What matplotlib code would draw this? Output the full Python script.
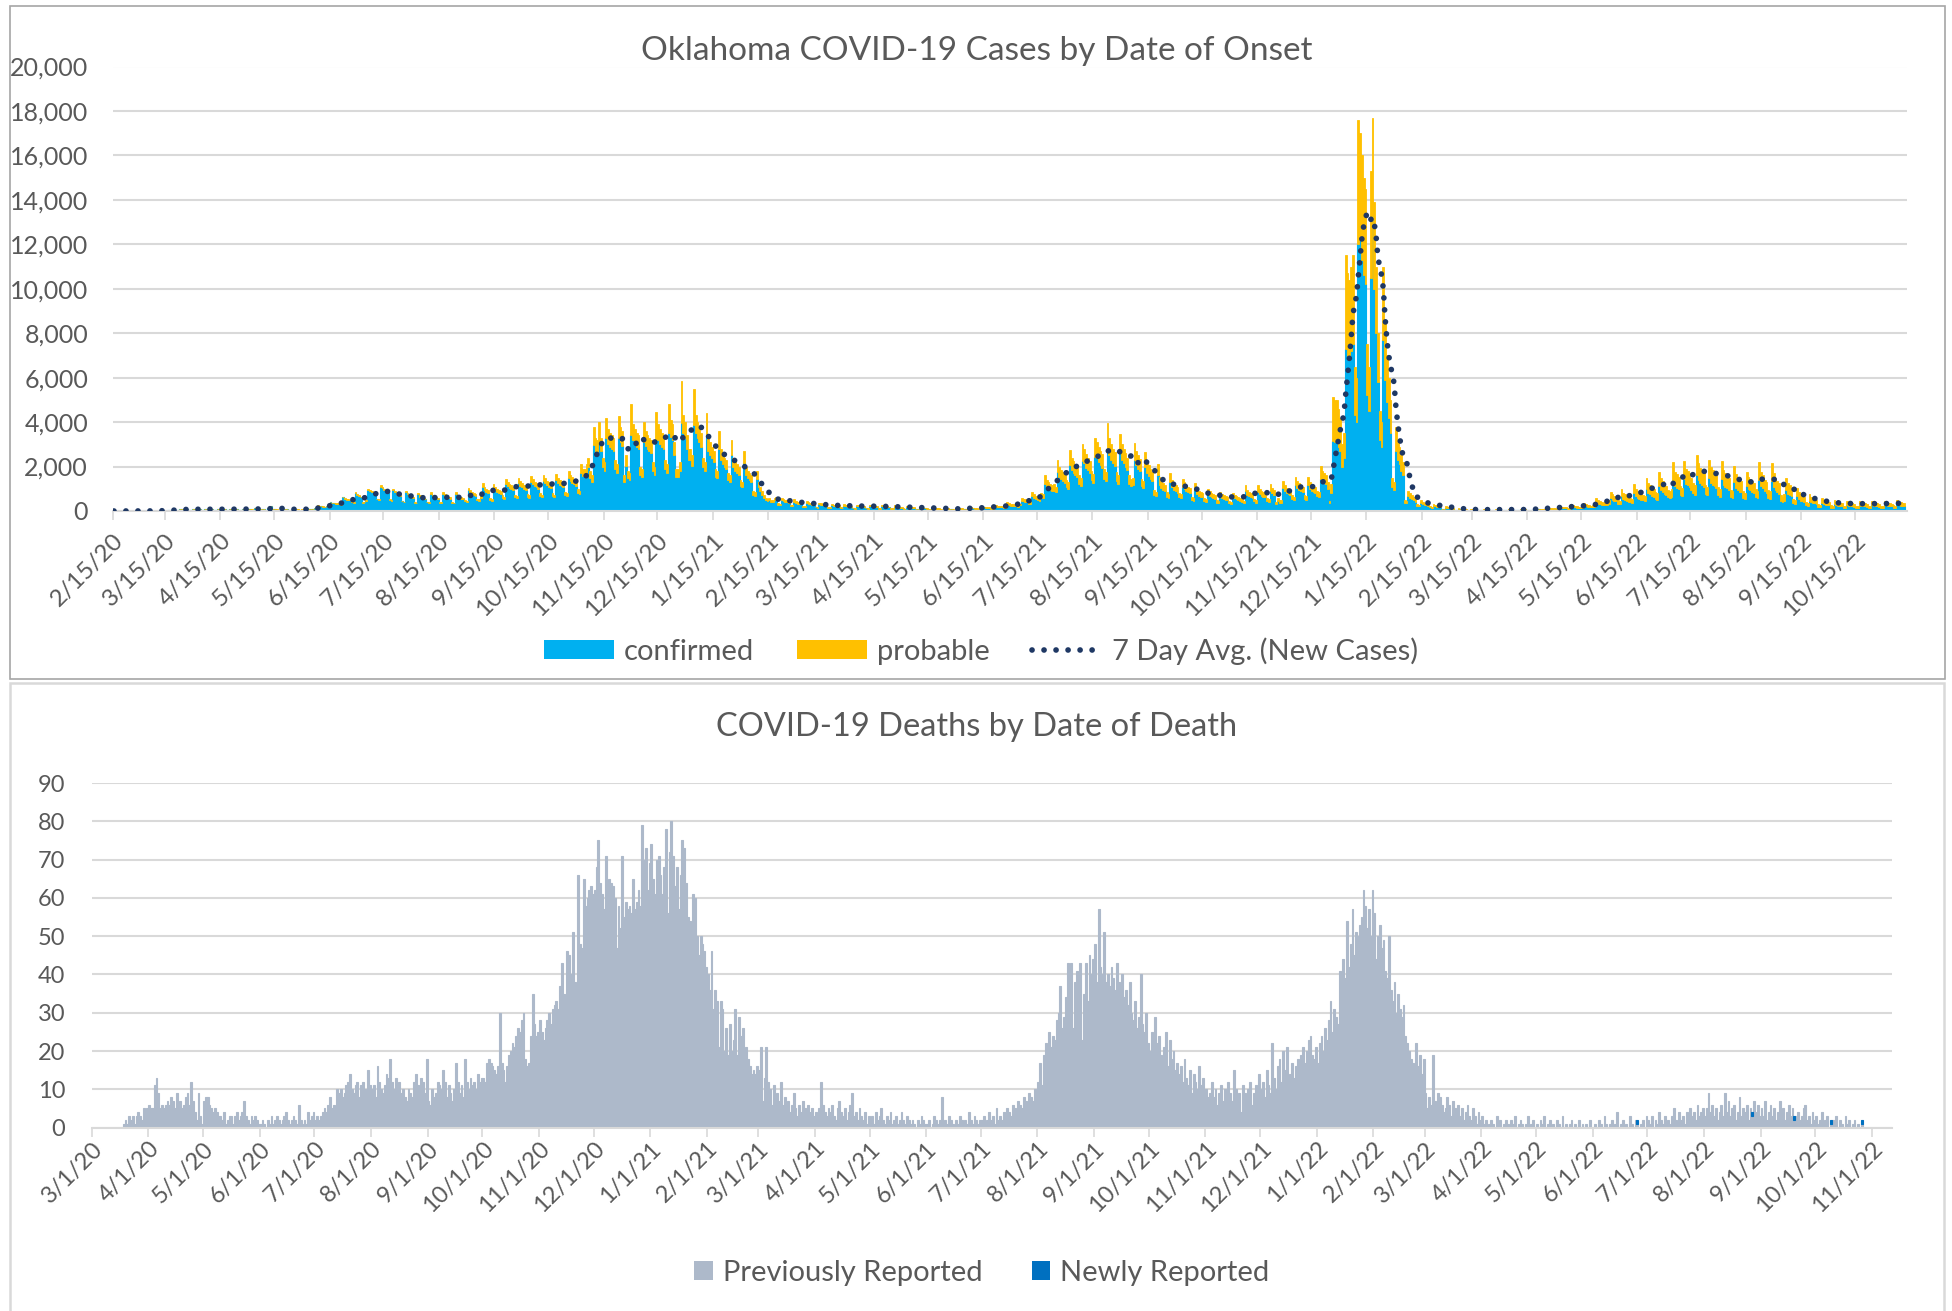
import numpy as np
import pandas as pd
import matplotlib
matplotlib.use("Agg")
import matplotlib.pyplot as plt
import matplotlib.dates as mdates
from matplotlib.patches import Rectangle, Patch
from matplotlib.lines import Line2D

plt.rcParams['font.family'] = ['Lato', 'DejaVu Sans']

# ---------------- DATA: cases by date of onset (daily, weeks start Saturday) ----------------
CASE_START = "2020-02-15"
TOTAL_WEEKS = [
 "0 0 0 0 0 0 0", "0 0 0 0 0 0 1", "0 1 2 2 3 4 6", "5 5 10 12 14 15 18",
 "20 22 45 50 55 55 60", "50 45 90 85 80 80 75", "60 55 95 90 88 85 80", "60 50 95 90 85 80 78",
 "60 50 100 95 90 85 80", "60 55 100 95 90 85 82", "65 55 110 100 95 90 85", "70 60 120 110 105 100 95",
 "75 65 130 120 240 105 100", "70 60 120 110 100 95 90", "50 45 60 80 75 70 65", "70 60 130 120 110 100 95",
 "130 120 260 230 220 210 200", "230 210 420 380 360 350 340", "330 300 640 580 540 520 500", "430 400 850 760 700 650 400",
 "420 480 1000 950 900 850 800", "560 520 1150 1100 1000 950 900", "520 480 1000 900 820 780 740", "460 420 900 800 720 680 640",
 "400 370 800 700 640 600 560", "420 390 840 740 670 630 600", "420 390 850 750 680 640 610", "410 380 840 740 670 630 600",
 "500 470 1050 940 860 800 760", "560 520 700 1250 1100 1000 950", "580 540 1200 1100 1000 960 920", "700 650 1450 1320 1220 1150 1100",
 "730 680 1480 1350 1250 1180 1120", "760 700 1560 1420 1320 1250 1180", "790 730 1620 1480 1370 1290 1220", "800 740 1650 1500 1400 1320 1250",
 "870 800 1800 1630 1520 1430 1350", "1000 900 2100 1900 1900 2100 2400", "1800 1600 3775 3300 3200 4000 3300", "2400 2200 4200 3700 3500 3400 3300",
 "2300 2100 4290 3800 3600 1600 2500", "1800 1700 4800 3900 3700 3500 3400", "2000 1900 4000 3600 3400 3300 3200", "2200 2000 4440 3900 3700 3500 3400",
 "2300 2100 4830 4100 3900 3100 1900", "1900 2200 5840 4300 4000 3400 2800", "2800 2500 5470 4300 4000 3800 3500", "2400 2200 4400 3300 3100 2900 2700",
 "1900 1800 3600 2800 2600 2400 2300", "1700 1600 3200 2400 2200 2100 2000", "1400 1300 2700 2000 1800 1700 1600", "900 850 1800 1300 1100 900 700",
 "600 550 590 500 500 600 650", "350 320 600 560 500 480 450", "280 260 520 460 420 400 380", "240 220 450 400 370 350 330",
 "200 180 380 340 310 290 280", "180 160 320 290 270 260 250", "165 150 300 270 250 240 230", "150 140 290 260 240 225 215",
 "150 140 290 260 240 225 215", "140 130 270 240 225 210 200", "125 115 250 220 200 190 180", "115 105 220 195 180 170 160",
 "100 90 195 170 155 145 140", "85 75 165 145 135 125 120", "75 65 145 125 115 110 105", "70 65 90 140 125 115 110",
 "90 80 180 160 145 135 130", "110 100 230 200 185 175 165", "140 130 290 250 230 220 210", "190 170 390 340 310 300 290",
 "270 250 330 600 560 540 520", "430 390 870 750 690 630 600", "800 750 1600 1400 1300 1200 1150", "1200 1100 2300 2000 1850 1750 1650",
 "1400 1300 2730 2400 2250 2100 2000", "1600 1480 3000 2800 2550 2400 2250", "1800 1650 3270 3100 2900 2700 2550", "1900 1750 3945 3300 3000 2800 2650",
 "1750 1600 3480 3000 2800 2600 2400", "1600 1450 1500 3075 2700 2500 2350", "1450 1330 2655 2250 2050 1900 1750", "950 870 2100 1550 1350 1250 1150",
 "850 780 1725 1400 1250 1150 1080", "820 760 1450 1300 1180 1100 1030", "650 600 1250 1000 900 850 800", "580 530 975 880 800 760 700",
 "480 440 860 760 700 660 620", "440 400 820 740 680 640 600", "520 470 1170 950 860 800 750", "560 500 1150 980 900 850 800",
 "580 520 1200 1050 950 420 600", "500 480 1350 1150 1050 1000 950", "700 650 1550 1350 1250 1150 1100", "720 660 1530 1320 1200 1150 1100",
 "900 850 2040 1800 1700 1600 1300", "470 1200 5120 5000 5000 4600 4200", "3000 3500 11500 10700 10400 11000 11500", "6500 6000 17600 17000 16000 15000 14500",
 "7500 6500 15300 17700 13900 11000 8000", "4500 4000 11000 8500 7000 6000 5000", "1500 1300 3800 3200 2900 2500 2200", "500 450 900 800 700 650 550",
 "300 280 480 420 380 350 320", "220 200 300 280 260 240 220", "110 100 220 190 170 160 150", "65 60 130 110 100 90 80",
 "42 40 90 72 66 60 55", "42 40 88 72 65 60 55", "42 40 88 72 65 60 55", "42 40 88 72 65 60 55",
 "45 42 95 78 72 65 60", "60 55 150 120 110 100 95", "95 90 200 170 155 140 130", "120 110 255 210 195 175 165",
 "150 140 310 260 240 215 200", "180 165 370 310 280 255 240", "260 240 580 480 440 420 380", "400 370 500 850 750 680 640",
 "480 440 1000 820 750 680 610", "590 550 1200 1000 920 840 770", "730 680 1500 1270 1150 1050 970", "860 800 1750 1480 1350 1230 1140",
 "950 880 1000 2190 1750 1650 1550", "1130 1050 2265 1900 1800 1700 1500", "1250 1150 2505 2150 1950 1800 1700", "1180 1100 2295 2000 1850 1750 1650",
 "1100 1000 2235 1850 1700 1600 1500", "960 880 2040 1650 1500 1350 1350", "900 830 1755 1550 1450 1350 1265", "1000 920 2190 1750 1600 1390 1300",
 "950 880 2175 1700 1500 1350 1250", "700 640 750 1500 1250 1150 1050", "560 500 1050 850 750 700 650", "400 360 750 640 580 540 500",
 "300 270 580 500 450 420 400", "250 230 480 420 380 360 340", "230 210 440 390 360 340 320", "230 210 450 390 360 340 320",
 "230 210 440 390 360 340 320", "240 220 460 400 370 350 330", "250 230 480 420 390 360 340",
]
PROBABLE_WEEKS = [
 "0 0 0 0 0 0 0", "0 0 0 0 0 0 0", "0 0 0 0 0 0 0", "0 0 1 1 1 1 1",
 "1 1 2 3 3 3 3", "3 2 5 4 4 4 4", "3 3 5 5 4 4 4", "3 3 5 5 4 4 4",
 "3 3 5 5 5 4 4", "3 3 5 5 5 4 4", "3 3 6 5 5 5 4", "4 3 6 6 5 5 5",
 "4 3 7 6 12 5 5", "4 3 6 6 5 5 5", "3 2 3 4 4 4 3", "4 3 7 6 6 5 5",
 "7 6 13 12 11 11 10", "12 11 21 19 18 18 17", "17 15 32 29 27 26 25", "22 20 43 38 35 33 20",
 "30 34 70 66 63 60 56", "40 36 80 77 70 66 63", "36 34 70 63 57 55 52", "32 30 63 56 50 48 45",
 "28 26 56 49 45 42 39", "30 27 59 52 47 44 42", "40 37 80 70 64 60 57", "45 42 92 81 74 69 66",
 "60 56 126 113 103 96 91", "75 70 95 170 150 135 130", "85 80 180 165 150 145 140", "105 100 220 200 185 175 165",
 "110 100 225 205 190 180 170", "115 105 240 215 200 190 180", "120 110 250 225 210 195 185", "125 115 260 230 215 200 190",
 "140 130 300 265 245 230 220", "170 150 380 330 330 370 420", "320 280 800 600 580 900 600", "430 400 900 680 640 620 600",
 "420 380 1000 700 660 300 460", "330 310 1400 720 680 640 620", "370 350 900 660 620 600 590", "400 370 1200 720 680 640 620",
 "420 380 1300 750 720 570 350", "350 400 1860 790 730 620 510", "510 460 1600 790 730 700 640", "440 400 1000 600 570 530 500",
 "350 330 800 510 480 440 420", "310 290 700 440 400 380 370", "260 240 560 370 330 310 290", "165 155 380 240 200 165 130",
 "110 100 110 90 90 110 120", "65 60 120 105 95 90 85", "55 50 105 90 85 80 75", "48 44 90 80 74 70 66",
 "40 36 76 68 62 58 56", "36 32 64 58 54 52 50", "33 30 60 54 50 48 46", "30 28 58 52 48 45 43",
 "30 28 58 52 48 45 43", "28 26 54 48 45 42 40", "25 23 50 44 40 38 36", "23 21 44 39 36 34 32",
 "20 18 39 34 31 29 28", "17 15 33 29 27 25 24", "15 13 29 25 23 22 21", "14 13 18 28 25 23 22",
 "18 16 36 32 29 27 26", "22 20 46 40 37 35 33", "30 28 62 54 50 47 45", "42 38 88 76 70 67 65",
 "62 58 76 140 130 125 120", "100 90 200 175 160 145 140", "185 170 370 320 300 275 265", "280 255 550 470 430 405 380",
 "330 305 680 565 525 490 470", "375 345 750 660 600 560 530", "420 390 820 730 680 635 600", "450 410 1245 780 700 660 620",
 "415 375 880 700 655 610 560", "380 340 350 775 640 590 550", "340 315 655 535 485 450 410", "225 205 500 365 320 295 270",
 "200 185 425 330 295 270 255", "190 180 350 300 280 260 240", "155 140 290 235 210 200 190", "135 125 225 205 185 180 165",
 "110 100 200 175 165 155 145", "100 95 190 175 160 150 140", "120 110 290 220 200 190 175", "130 120 280 230 210 200 190",
 "140 120 290 250 220 100 140", "120 110 320 270 250 240 230", "170 160 370 320 300 270 260", "180 160 380 320 290 280 270",
 "220 210 590 450 420 400 320", "120 400 1950 1900 1900 1700 1500", "1000 1100 4200 3800 3600 3800 4000", "2200 2000 5600 4800 4700 4400 4300",
 "2300 2000 4800 4400 3900 3000 2200", "1300 1100 3300 2600 2100 1800 1500", "400 350 1100 900 800 700 600", "120 110 220 200 170 160 130",
 "70 65 120 100 90 85 75", "50 45 70 65 60 55 50", "33 30 66 57 51 48 45", "20 18 39 33 30 27 24",
 "13 12 27 22 20 18 17", "13 12 26 22 20 18 17", "13 12 26 22 20 18 17", "13 12 26 22 20 18 17",
 "14 13 29 23 22 20 18", "18 17 45 36 33 30 29", "29 27 60 51 47 42 39", "36 33 77 63 59 53 50",
 "45 42 93 78 72 65 60", "54 50 111 93 84 77 72", "86 79 191 158 145 139 125", "132 122 165 280 248 224 211",
 "158 145 330 271 248 224 201", "200 187 408 340 313 286 262", "255 238 525 445 403 368 340", "310 288 630 533 486 443 410",
 "342 317 360 788 630 594 558", "407 378 815 684 648 612 540", "450 414 902 774 702 648 612", "425 396 826 720 666 630 594",
 "396 360 805 666 612 576 540", "346 317 734 594 540 486 486", "324 299 632 558 522 486 455", "360 331 788 630 576 500 468",
 "350 325 805 630 555 500 463", "260 237 278 555 463 425 389", "207 185 389 315 278 259 240", "148 133 278 237 215 200 185",
 "111 100 215 185 167 155 148", "93 85 178 155 141 133 126", "85 78 163 144 133 126 118", "85 78 167 144 133 126 118",
 "85 78 163 144 133 126 118", "89 81 170 148 137 130 122", "93 85 178 155 144 133 126",
]

# ---------------- DATA: deaths by date of death (daily, one string per month) ----------------
DEATH_START = "2020-03-01"
DEATHS_MONTHS = [
 "0 0 0 0 0 0 0 0 0 0 0 0 0 0 0 0 0 1 2 1 3 2 3 1 3 4 3 2 5 4 5",
 "6 5 5 11 13 9 5 6 5 6 7 6 8 7 5 9 6 7 5 6 8 9 6 12 7 4 2 9 3 1",
 "7 8 8 6 5 4 5 4 3 3 2 4 1 2 3 3 1 3 4 2 3 4 7 3 2 1 3 2 3 2 1",
 "1 2 1 0 2 1 3 1 2 3 2 1 2 3 4 2 1 2 3 2 1 6 2 1 2 1 4 2 3 4",
 "2 3 2 3 4 5 4 6 8 5 6 4 10 9 10 8 9 11 12 14 10 9 11 12 8 11 12 10 7 15 11",
 "10 11 8 16 12 10 9 11 14 13 18 12 10 13 11 12 9 10 8 7 10 9 8 12 14 11 7 13 12 9 18",
 "7 6 10 8 9 12 11 10 15 12 8 11 9 7 10 17 12 9 11 8 18 12 10 13 11 12 10 14 12 13",
 "13 12 17 18 17 16 15 14 16 30 17 15 12 16 19 20 22 21 24 26 25 28 30 18 16 17 24 35 27 24 25",
 "28 25 23 26 28 30 27 31 32 33 31 37 43 35 27 46 45 40 51 38 32 66 48 47 65 58 60 62 63 61",
 "62 68 75 64 61 57 71 63 65 64 63 60 47 58 52 71 55 59 57 58 56 65 57 59 62 58 79 70 73 62 69",
 "74 65 61 70 71 66 61 68 78 56 72 80 71 63 68 57 66 75 73 64 55 54 49 61 60 50 45 50 48 46 42",
 "40 36 46 31 36 33 21 33 31 20 26 19 27 20 23 31 19 29 24 26 19 21 18 16 14 15 14 16",
 "15 21 7 13 21 12 10 6 11 5 9 7 12 6 8 5 7 4 6 9 5 3 6 4 7 5 3 6 4 5 3",
 "4 3 5 12 6 4 3 5 4 6 3 2 5 7 4 3 5 2 4 6 9 3 4 2 5 3 2 4 1 3",
 "2 3 1 4 2 3 5 2 1 3 2 4 1 2 3 1 2 4 2 1 3 2 1 2 1 0 2 1 3 2 1",
 "1 2 0 1 3 2 1 2 8 1 2 1 3 2 1 0 2 1 3 2 1 2 1 4 2 1 3 2 1 2",
 "2 3 1 2 4 2 3 1 5 2 3 2 4 3 5 4 3 6 5 4 7 6 5 8 7 6 9 8 7 10 9",
 "12 17 11 19 22 18 25 21 24 23 28 30 37 26 29 34 43 36 43 26 38 41 31 43 23 35 43 33 45 40 44",
 "48 38 57 42 40 51 38 40 37 42 39 36 43 38 35 40 34 36 32 38 30 28 33 26 29 40 27 25 30 22",
 "20 25 18 29 22 24 19 17 21 25 16 23 18 20 15 17 14 16 12 18 13 11 15 9 14 12 10 16 11 13 9",
 "10 8 9 12 8 10 6 9 11 7 10 8 12 9 7 15 10 8 9 4 11 9 7 10 12 6 9 11 8 14",
 "10 12 8 15 11 9 22 13 10 16 18 12 20 15 21 11 14 17 13 16 18 15 19 21 17 20 23 24 19 18 21",
 "17 22 24 20 26 23 28 33 25 31 29 27 41 36 44 39 54 42 48 57 45 51 50 53 55 62 58 52 57 50 62",
 "56 44 50 53 47 49 41 39 50 36 33 38 30 35 31 29 32 24 22 20 18 17 15 22 16 19 14 18",
 "9 5 8 6 19 7 5 9 8 6 4 5 8 6 3 7 5 4 6 3 5 2 4 6 3 2 5 3 1 4 2",
 "3 1 2 0 1 2 1 0 3 1 2 0 1 2 1 0 2 1 3 0 1 2 1 0 1 3 0 1 2 0",
 "1 0 2 1 3 0 1 2 0 1 0 2 1 0 3 0 1 0 1 2 0 1 0 2 0 1 0 1 0 2 0",
 "0 1 0 2 1 0 3 1 0 1 2 0 1 4 0 1 2 0 1 0 3 1 0 2 1 0 1 2 0 3",
 "2 1 3 0 2 1 4 2 1 3 0 2 1 3 5 2 1 4 2 3 1 4 2 5 3 4 2 6 3 4 5",
 "3 5 9 4 6 3 5 2 4 6 3 9 4 7 3 5 6 2 4 8 3 5 4 6 2 5 3 7 4 6 3",
 "5 3 7 2 4 6 3 5 2 4 7 3 5 2 4 6 3 5 2 3 4 2 3 5 6 2 3 1 4 2",
 "3 1 2 4 1 2 3 0 1 2 1 3 0 2 1 0 3 1 2 0 1 2 0 1 0 1 0 0 0 0 0",
]
NEWLY_DATES = ["2022-06-25", "2022-08-27", "2022-09-19", "2022-10-09", "2022-10-26"]
NEWLY_VALUES = [1, 1, 1, 1, 1]

CASE_TITLE = "Oklahoma COVID-19 Cases by Date of Onset"
DEATH_TITLE = "COVID-19 Deaths by Date of Death"
CASE_LEGEND = ["confirmed", "probable", "7 Day Avg. (New Cases)"]
DEATH_LEGEND = ["Previously Reported", "Newly Reported"]

# ---------------- build series ----------------
total = np.array([float(v) for w in TOTAL_WEEKS for v in w.split()])
probable = np.array([float(v) for w in PROBABLE_WEEKS for v in w.split()])
confirmed = total - probable
case_dates = pd.date_range(CASE_START, periods=len(total), freq="D")
avg7 = pd.Series(total).rolling(7, min_periods=1).mean().values

deaths = np.array([float(v) for m in DEATHS_MONTHS for v in m.split()])
death_dates = pd.date_range(DEATH_START, periods=len(deaths), freq="D")
newly_dates = pd.to_datetime(NEWLY_DATES)
death_lookup = dict(zip(death_dates, deaths))
newly_bottom = [death_lookup.get(d, 0.0) for d in newly_dates]

# ---------------- styling ----------------
W, H = 1952, 1311
TXT = "#595959"
GRID = "#D9D9D9"
C_CONF = "#00B0F0"
C_PROB = "#FFC000"
C_AVG = "#1F3864"
C_PREV = "#ADB9CA"
C_NEW = "#0070C0"

fig = plt.figure(figsize=(W / 100, H / 100), dpi=100)
fig.patch.set_facecolor("white")

# panel borders
fig.add_artist(Rectangle((10 / W, 1 - 679 / H), 1935 / W, 673 / H, transform=fig.transFigure,
                         fill=False, edgecolor="#A6A6A6", lw=1.2))
fig.add_artist(Rectangle((10 / W, -0.02), 1934 / W, 1 - 683 / H + 0.02, transform=fig.transFigure,
                         fill=False, edgecolor=GRID, lw=1.8))


def style_axis(ax):
    for s in ["top", "right", "left"]:
        ax.spines[s].set_visible(False)
    ax.spines["bottom"].set_color(GRID)
    ax.spines["bottom"].set_linewidth(1.5)
    ax.yaxis.grid(True, color=GRID, lw=1.5)
    ax.set_axisbelow(True)
    ax.tick_params(axis="y", length=0, colors=TXT)
    ax.tick_params(axis="x", length=6.5, width=1.2, color=GRID, colors=TXT, direction="out")
    for t in ax.get_xticklabels() + ax.get_yticklabels():
        t.set_color(TXT)


def date_label(d):
    return f"{d.month}/{d.day}/{d.year % 100}"


# ---------------- top chart ----------------
ax1 = fig.add_axes([113 / W, 1 - 511 / H, (1907 - 113) / W, (511 - 66.5) / H])
x0 = mdates.date2num(case_dates[0])
ax1.bar(case_dates, confirmed, width=1.0, align="edge", color=C_CONF, edgecolor=C_CONF, lw=0.8, zorder=2)
ax1.bar(case_dates, probable, bottom=confirmed, width=1.0, align="edge", color=C_PROB, edgecolor=C_PROB, lw=0.6, zorder=2)
ax1.plot(case_dates + pd.Timedelta(hours=12), avg7, color=C_AVG, lw=4.1,
         linestyle=(0, (0.01, 2.1)), dash_capstyle="round", zorder=3)
ax1.set_xlim(x0, x0 + 1002)
ax1.set_ylim(0, 20000)
ax1.set_yticks(np.arange(0, 20001, 2000))
ax1.set_yticklabels([f"{v:,}" for v in range(0, 20001, 2000)], fontsize=18)
cticks = pd.date_range(CASE_START, "2022-10-15", freq=pd.DateOffset(months=1))
ax1.set_xticks(mdates.date2num(cticks))
ax1.set_xticklabels([date_label(d) for d in cticks], fontsize=17.5, rotation=45, ha="right",
                    va="top", rotation_mode="anchor")
style_axis(ax1)
ax1.tick_params(axis="y", pad=18)
ax1.tick_params(axis="x", pad=7)

fig.text(977 / W, 1 - 51 / H, CASE_TITLE, ha="center", va="center", fontsize=24, color=TXT)

h1 = [Patch(facecolor=C_CONF, edgecolor="none"), Patch(facecolor=C_PROB, edgecolor="none"),
      Line2D([], [], color=C_AVG, lw=4.1, linestyle=(0, (0.01, 2.1)), dash_capstyle="round")]
fig.legend(h1, CASE_LEGEND, loc="center", bbox_to_anchor=(788 / 1568, 1 - 651 / H), ncol=3,
           frameon=False, fontsize=21, labelcolor=TXT, handlelength=2.4, handleheight=0.62,
           handletextpad=0.35, columnspacing=1.45)

# ---------------- bottom chart ----------------
ax2 = fig.add_axes([91.7 / W, 1 - 1127.6 / H, (1892 - 91.7) / W, (1127.6 - 783) / H])
X0 = mdates.date2num(death_dates[0])
ax2.bar(death_dates, deaths, width=1.0, align="edge", color=C_PREV, edgecolor=C_PREV, lw=0.8, zorder=2)
ax2.bar(newly_dates, NEWLY_VALUES, bottom=newly_bottom, width=1.0, align="edge", color=C_NEW,
        edgecolor=C_NEW, lw=0.8, zorder=2)
ax2.set_xlim(X0, X0 + 986)
ax2.set_ylim(0, 90)
ax2.set_yticks(np.arange(0, 91, 10))
ax2.set_yticklabels([str(v) for v in range(0, 91, 10)], fontsize=17)
dticks = pd.date_range(DEATH_START, "2022-11-01", freq="MS")
ax2.set_xticks(mdates.date2num(dticks))
ax2.set_xticklabels([date_label(d) for d in dticks], fontsize=17, rotation=45, ha="right",
                    va="top", rotation_mode="anchor")
style_axis(ax2)
ax2.tick_params(axis="y", pad=19)
ax2.tick_params(axis="x", pad=1)

fig.text(977 / W, 1 - 727 / H, DEATH_TITLE, ha="center", va="center", fontsize=23.5, color=TXT)

h2 = [Patch(facecolor=C_PREV, edgecolor="none"), Patch(facecolor=C_NEW, edgecolor="none")]
fig.legend(h2, DEATH_LEGEND, loc="center", bbox_to_anchor=(982 / W, 1 - 1273 / H), ncol=2,
           frameon=False, fontsize=21, labelcolor=TXT, handlelength=0.62, handleheight=0.62,
           handletextpad=0.35, columnspacing=1.7)

fig.savefig("out.png", dpi=100, facecolor="white")
